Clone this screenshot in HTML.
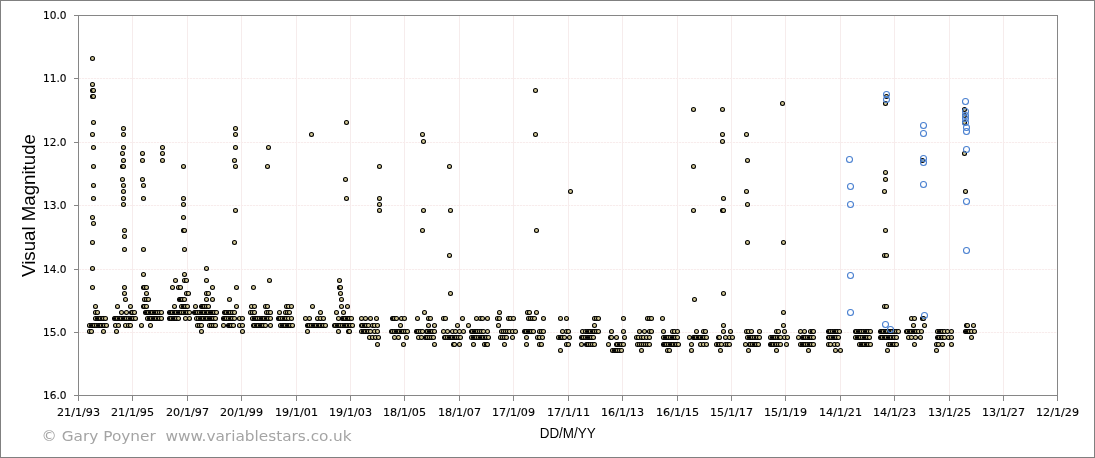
<!DOCTYPE html>
<html lang="en">
<head>
<meta charset="utf-8">
<title>Light curve - Visual Magnitude</title>
<style>
html,body{margin:0;padding:0;background:#fff;}
body{width:1095px;height:458px;overflow:hidden;}
svg{display:block;}
.tk{font-family:"DejaVu Sans","Liberation Sans",sans-serif;font-size:11.3px;fill:#000;stroke:#000;stroke-width:0.12;}
.ax{font-family:"Liberation Sans",Arial,sans-serif;fill:#000;}
.cr{font-family:"DejaVu Sans","Liberation Sans",sans-serif;font-size:13.6px;fill:#a4a4a4;}
.d circle{fill:#d2c896;stroke:#000;stroke-width:1.06;}
.b circle{fill:none;stroke:#4a80d0;stroke-width:1.08;}
</style>
</head>
<body>
<svg width="1095" height="458" viewBox="0 0 1095 458">
<rect x="0" y="0" width="1095" height="458" fill="#fff"/>
<rect x="0.5" y="0.5" width="1094" height="457" fill="none" stroke="#808080" stroke-width="1"/>

<g stroke="#f6ecec" stroke-width="1" fill="none">
<line x1="132.5" y1="16" x2="132.5" y2="395" />
<line x1="187.5" y1="16" x2="187.5" y2="395" />
<line x1="241.5" y1="16" x2="241.5" y2="395" />
<line x1="296.5" y1="16" x2="296.5" y2="395" />
<line x1="350.5" y1="16" x2="350.5" y2="395" />
<line x1="404.5" y1="16" x2="404.5" y2="395" />
<line x1="459.5" y1="16" x2="459.5" y2="395" />
<line x1="513.5" y1="16" x2="513.5" y2="395" />
<line x1="568.5" y1="16" x2="568.5" y2="395" />
<line x1="622.5" y1="16" x2="622.5" y2="395" />
<line x1="677.5" y1="16" x2="677.5" y2="395" />
<line x1="731.5" y1="16" x2="731.5" y2="395" />
<line x1="785.5" y1="16" x2="785.5" y2="395" />
<line x1="840.5" y1="16" x2="840.5" y2="395" />
<line x1="894.5" y1="16" x2="894.5" y2="395" />
<line x1="949.5" y1="16" x2="949.5" y2="395" />
<line x1="1003.5" y1="16" x2="1003.5" y2="395" />
</g>
<g stroke="#f8ecec" stroke-width="1" fill="none" stroke-dasharray="2.3 0.7">
<line x1="79" y1="78.5" x2="1057" y2="78.5" />
<line x1="79" y1="142.5" x2="1057" y2="142.5" />
<line x1="79" y1="205.5" x2="1057" y2="205.5" />
<line x1="79" y1="269.5" x2="1057" y2="269.5" />
<line x1="79" y1="332.5" x2="1057" y2="332.5" />
</g>
<g stroke="#868686" stroke-width="1" fill="none">
<rect x="78.5" y="15.5" width="979" height="380"/>
<line x1="74" y1="15.5" x2="78" y2="15.5"/>
<line x1="74" y1="78.5" x2="78" y2="78.5"/>
<line x1="74" y1="142.5" x2="78" y2="142.5"/>
<line x1="74" y1="205.5" x2="78" y2="205.5"/>
<line x1="74" y1="269.5" x2="78" y2="269.5"/>
<line x1="74" y1="332.5" x2="78" y2="332.5"/>
<line x1="74" y1="395.5" x2="78" y2="395.5"/>
<line x1="78.5" y1="396" x2="78.5" y2="401"/>
<line x1="132.5" y1="396" x2="132.5" y2="401"/>
<line x1="187.5" y1="396" x2="187.5" y2="401"/>
<line x1="241.5" y1="396" x2="241.5" y2="401"/>
<line x1="296.5" y1="396" x2="296.5" y2="401"/>
<line x1="350.5" y1="396" x2="350.5" y2="401"/>
<line x1="404.5" y1="396" x2="404.5" y2="401"/>
<line x1="459.5" y1="396" x2="459.5" y2="401"/>
<line x1="513.5" y1="396" x2="513.5" y2="401"/>
<line x1="568.5" y1="396" x2="568.5" y2="401"/>
<line x1="622.5" y1="396" x2="622.5" y2="401"/>
<line x1="677.5" y1="396" x2="677.5" y2="401"/>
<line x1="731.5" y1="396" x2="731.5" y2="401"/>
<line x1="785.5" y1="396" x2="785.5" y2="401"/>
<line x1="840.5" y1="396" x2="840.5" y2="401"/>
<line x1="894.5" y1="396" x2="894.5" y2="401"/>
<line x1="949.5" y1="396" x2="949.5" y2="401"/>
<line x1="1003.5" y1="396" x2="1003.5" y2="401"/>
<line x1="1057.5" y1="396" x2="1057.5" y2="401"/>
</g>
<g class="tk" text-anchor="end">
<text x="66.5" y="19.2" textLength="23.5" lengthAdjust="spacingAndGlyphs">10.0</text>
<text x="66.5" y="82.2" textLength="23.5" lengthAdjust="spacingAndGlyphs">11.0</text>
<text x="66.5" y="146.2" textLength="23.5" lengthAdjust="spacingAndGlyphs">12.0</text>
<text x="66.5" y="209.2" textLength="23.5" lengthAdjust="spacingAndGlyphs">13.0</text>
<text x="66.5" y="273.2" textLength="23.5" lengthAdjust="spacingAndGlyphs">14.0</text>
<text x="66.5" y="336.2" textLength="23.5" lengthAdjust="spacingAndGlyphs">15.0</text>
<text x="66.5" y="399.2" textLength="23.5" lengthAdjust="spacingAndGlyphs">16.0</text>
</g>
<g class="tk" text-anchor="middle">
<text x="78.5" y="416.3" textLength="43" lengthAdjust="spacingAndGlyphs">21/1/93</text>
<text x="132.5" y="416.3" textLength="43" lengthAdjust="spacingAndGlyphs">21/1/95</text>
<text x="187.5" y="416.3" textLength="43" lengthAdjust="spacingAndGlyphs">20/1/97</text>
<text x="241.5" y="416.3" textLength="43" lengthAdjust="spacingAndGlyphs">20/1/99</text>
<text x="296.5" y="416.3" textLength="43" lengthAdjust="spacingAndGlyphs">19/1/01</text>
<text x="350.5" y="416.3" textLength="43" lengthAdjust="spacingAndGlyphs">19/1/03</text>
<text x="404.5" y="416.3" textLength="43" lengthAdjust="spacingAndGlyphs">18/1/05</text>
<text x="459.5" y="416.3" textLength="43" lengthAdjust="spacingAndGlyphs">18/1/07</text>
<text x="513.5" y="416.3" textLength="43" lengthAdjust="spacingAndGlyphs">17/1/09</text>
<text x="568.5" y="416.3" textLength="43" lengthAdjust="spacingAndGlyphs">17/1/11</text>
<text x="622.5" y="416.3" textLength="43" lengthAdjust="spacingAndGlyphs">16/1/13</text>
<text x="677.5" y="416.3" textLength="43" lengthAdjust="spacingAndGlyphs">16/1/15</text>
<text x="731.5" y="416.3" textLength="43" lengthAdjust="spacingAndGlyphs">15/1/17</text>
<text x="785.5" y="416.3" textLength="43" lengthAdjust="spacingAndGlyphs">15/1/19</text>
<text x="840.5" y="416.3" textLength="43" lengthAdjust="spacingAndGlyphs">14/1/21</text>
<text x="894.5" y="416.3" textLength="43" lengthAdjust="spacingAndGlyphs">14/1/23</text>
<text x="949.5" y="416.3" textLength="43" lengthAdjust="spacingAndGlyphs">13/1/25</text>
<text x="1003.5" y="416.3" textLength="43" lengthAdjust="spacingAndGlyphs">13/1/27</text>
<text x="1057.5" y="416.3" textLength="43" lengthAdjust="spacingAndGlyphs">12/1/29</text>
</g>
<text class="ax" font-size="18.67" text-anchor="middle" transform="translate(35.3 205.5) rotate(-90)">Visual Magnitude</text>
<text class="ax" font-size="14" text-anchor="middle" x="567.7" y="437.6" textLength="56" lengthAdjust="spacingAndGlyphs">DD/M/YY</text>
<text class="cr" x="41.6" y="440.8" textLength="310" lengthAdjust="spacingAndGlyphs" xml:space="preserve" style="white-space:pre">© Gary Poyner  www.variablestars.co.uk</text>
<g class="d">
<circle cx="89.5" cy="331.5" r="2"/>
<circle cx="89.5" cy="325.5" r="2"/>
<circle cx="91.5" cy="325.5" r="2"/>
<circle cx="91.5" cy="331.5" r="2"/>
<circle cx="92.5" cy="287.5" r="2"/>
<circle cx="92.5" cy="58.5" r="2"/>
<circle cx="92.5" cy="84.5" r="2"/>
<circle cx="92.5" cy="134.5" r="2"/>
<circle cx="92.5" cy="217.5" r="2"/>
<circle cx="92.5" cy="242.5" r="2"/>
<circle cx="92.5" cy="268.5" r="2"/>
<circle cx="92.5" cy="325.5" r="2"/>
<circle cx="92.5" cy="90.5" r="2"/>
<circle cx="92.5" cy="96.5" r="2"/>
<circle cx="93.5" cy="90.5" r="2"/>
<circle cx="93.5" cy="96.5" r="2"/>
<circle cx="93.5" cy="122.5" r="2"/>
<circle cx="93.5" cy="147.5" r="2"/>
<circle cx="93.5" cy="166.5" r="2"/>
<circle cx="93.5" cy="185.5" r="2"/>
<circle cx="93.5" cy="198.5" r="2"/>
<circle cx="93.5" cy="223.5" r="2"/>
<circle cx="93.5" cy="325.5" r="2"/>
<circle cx="94.5" cy="325.5" r="2"/>
<circle cx="95.5" cy="306.5" r="2"/>
<circle cx="95.5" cy="318.5" r="2"/>
<circle cx="95.5" cy="312.5" r="2"/>
<circle cx="96.5" cy="325.5" r="2"/>
<circle cx="97.5" cy="312.5" r="2"/>
<circle cx="97.5" cy="318.5" r="2"/>
<circle cx="98.5" cy="318.5" r="2"/>
<circle cx="98.5" cy="325.5" r="2"/>
<circle cx="99.5" cy="318.5" r="2"/>
<circle cx="99.5" cy="325.5" r="2"/>
<circle cx="100.5" cy="318.5" r="2"/>
<circle cx="100.5" cy="325.5" r="2"/>
<circle cx="101.5" cy="325.5" r="2"/>
<circle cx="102.5" cy="318.5" r="2"/>
<circle cx="103.5" cy="331.5" r="2"/>
<circle cx="103.5" cy="318.5" r="2"/>
<circle cx="103.5" cy="325.5" r="2"/>
<circle cx="104.5" cy="325.5" r="2"/>
<circle cx="105.5" cy="318.5" r="2"/>
<circle cx="106.5" cy="325.5" r="2"/>
<circle cx="114.5" cy="318.5" r="2"/>
<circle cx="115.5" cy="325.5" r="2"/>
<circle cx="115.5" cy="318.5" r="2"/>
<circle cx="116.5" cy="331.5" r="2"/>
<circle cx="116.5" cy="318.5" r="2"/>
<circle cx="117.5" cy="306.5" r="2"/>
<circle cx="117.5" cy="318.5" r="2"/>
<circle cx="118.5" cy="325.5" r="2"/>
<circle cx="119.5" cy="318.5" r="2"/>
<circle cx="120.5" cy="318.5" r="2"/>
<circle cx="121.5" cy="312.5" r="2"/>
<circle cx="121.5" cy="318.5" r="2"/>
<circle cx="122.5" cy="153.5" r="2"/>
<circle cx="122.5" cy="166.5" r="2"/>
<circle cx="122.5" cy="179.5" r="2"/>
<circle cx="123.5" cy="128.5" r="2"/>
<circle cx="123.5" cy="134.5" r="2"/>
<circle cx="123.5" cy="147.5" r="2"/>
<circle cx="123.5" cy="160.5" r="2"/>
<circle cx="123.5" cy="185.5" r="2"/>
<circle cx="123.5" cy="191.5" r="2"/>
<circle cx="123.5" cy="198.5" r="2"/>
<circle cx="123.5" cy="204.5" r="2"/>
<circle cx="123.5" cy="318.5" r="2"/>
<circle cx="123.5" cy="166.5" r="2"/>
<circle cx="124.5" cy="230.5" r="2"/>
<circle cx="124.5" cy="236.5" r="2"/>
<circle cx="124.5" cy="249.5" r="2"/>
<circle cx="124.5" cy="318.5" r="2"/>
<circle cx="124.5" cy="287.5" r="2"/>
<circle cx="124.5" cy="293.5" r="2"/>
<circle cx="125.5" cy="325.5" r="2"/>
<circle cx="125.5" cy="318.5" r="2"/>
<circle cx="125.5" cy="299.5" r="2"/>
<circle cx="126.5" cy="312.5" r="2"/>
<circle cx="126.5" cy="318.5" r="2"/>
<circle cx="128.5" cy="318.5" r="2"/>
<circle cx="128.5" cy="325.5" r="2"/>
<circle cx="130.5" cy="306.5" r="2"/>
<circle cx="130.5" cy="325.5" r="2"/>
<circle cx="130.5" cy="318.5" r="2"/>
<circle cx="131.5" cy="312.5" r="2"/>
<circle cx="131.5" cy="318.5" r="2"/>
<circle cx="132.5" cy="318.5" r="2"/>
<circle cx="132.5" cy="312.5" r="2"/>
<circle cx="133.5" cy="318.5" r="2"/>
<circle cx="134.5" cy="312.5" r="2"/>
<circle cx="135.5" cy="318.5" r="2"/>
<circle cx="141.5" cy="325.5" r="2"/>
<circle cx="142.5" cy="153.5" r="2"/>
<circle cx="142.5" cy="160.5" r="2"/>
<circle cx="142.5" cy="179.5" r="2"/>
<circle cx="143.5" cy="274.5" r="2"/>
<circle cx="143.5" cy="185.5" r="2"/>
<circle cx="143.5" cy="198.5" r="2"/>
<circle cx="143.5" cy="249.5" r="2"/>
<circle cx="143.5" cy="287.5" r="2"/>
<circle cx="143.5" cy="306.5" r="2"/>
<circle cx="144.5" cy="287.5" r="2"/>
<circle cx="144.5" cy="299.5" r="2"/>
<circle cx="144.5" cy="306.5" r="2"/>
<circle cx="145.5" cy="312.5" r="2"/>
<circle cx="146.5" cy="287.5" r="2"/>
<circle cx="146.5" cy="299.5" r="2"/>
<circle cx="146.5" cy="306.5" r="2"/>
<circle cx="146.5" cy="312.5" r="2"/>
<circle cx="146.5" cy="293.5" r="2"/>
<circle cx="147.5" cy="312.5" r="2"/>
<circle cx="147.5" cy="318.5" r="2"/>
<circle cx="148.5" cy="299.5" r="2"/>
<circle cx="148.5" cy="312.5" r="2"/>
<circle cx="149.5" cy="318.5" r="2"/>
<circle cx="150.5" cy="325.5" r="2"/>
<circle cx="150.5" cy="312.5" r="2"/>
<circle cx="150.5" cy="318.5" r="2"/>
<circle cx="151.5" cy="312.5" r="2"/>
<circle cx="151.5" cy="318.5" r="2"/>
<circle cx="152.5" cy="312.5" r="2"/>
<circle cx="153.5" cy="318.5" r="2"/>
<circle cx="154.5" cy="312.5" r="2"/>
<circle cx="154.5" cy="318.5" r="2"/>
<circle cx="155.5" cy="312.5" r="2"/>
<circle cx="155.5" cy="318.5" r="2"/>
<circle cx="156.5" cy="312.5" r="2"/>
<circle cx="156.5" cy="318.5" r="2"/>
<circle cx="157.5" cy="312.5" r="2"/>
<circle cx="158.5" cy="318.5" r="2"/>
<circle cx="159.5" cy="312.5" r="2"/>
<circle cx="159.5" cy="318.5" r="2"/>
<circle cx="161.5" cy="312.5" r="2"/>
<circle cx="161.5" cy="318.5" r="2"/>
<circle cx="162.5" cy="147.5" r="2"/>
<circle cx="162.5" cy="160.5" r="2"/>
<circle cx="162.5" cy="153.5" r="2"/>
<circle cx="169.5" cy="312.5" r="2"/>
<circle cx="169.5" cy="318.5" r="2"/>
<circle cx="170.5" cy="312.5" r="2"/>
<circle cx="170.5" cy="318.5" r="2"/>
<circle cx="171.5" cy="312.5" r="2"/>
<circle cx="171.5" cy="318.5" r="2"/>
<circle cx="172.5" cy="287.5" r="2"/>
<circle cx="172.5" cy="312.5" r="2"/>
<circle cx="173.5" cy="318.5" r="2"/>
<circle cx="174.5" cy="306.5" r="2"/>
<circle cx="174.5" cy="312.5" r="2"/>
<circle cx="174.5" cy="318.5" r="2"/>
<circle cx="175.5" cy="280.5" r="2"/>
<circle cx="175.5" cy="312.5" r="2"/>
<circle cx="175.5" cy="318.5" r="2"/>
<circle cx="176.5" cy="312.5" r="2"/>
<circle cx="176.5" cy="318.5" r="2"/>
<circle cx="178.5" cy="287.5" r="2"/>
<circle cx="178.5" cy="312.5" r="2"/>
<circle cx="178.5" cy="318.5" r="2"/>
<circle cx="179.5" cy="299.5" r="2"/>
<circle cx="179.5" cy="312.5" r="2"/>
<circle cx="180.5" cy="287.5" r="2"/>
<circle cx="180.5" cy="299.5" r="2"/>
<circle cx="180.5" cy="312.5" r="2"/>
<circle cx="181.5" cy="299.5" r="2"/>
<circle cx="181.5" cy="306.5" r="2"/>
<circle cx="181.5" cy="312.5" r="2"/>
<circle cx="182.5" cy="299.5" r="2"/>
<circle cx="183.5" cy="204.5" r="2"/>
<circle cx="183.5" cy="166.5" r="2"/>
<circle cx="183.5" cy="198.5" r="2"/>
<circle cx="183.5" cy="217.5" r="2"/>
<circle cx="183.5" cy="230.5" r="2"/>
<circle cx="183.5" cy="306.5" r="2"/>
<circle cx="183.5" cy="312.5" r="2"/>
<circle cx="184.5" cy="274.5" r="2"/>
<circle cx="184.5" cy="230.5" r="2"/>
<circle cx="184.5" cy="249.5" r="2"/>
<circle cx="184.5" cy="299.5" r="2"/>
<circle cx="184.5" cy="306.5" r="2"/>
<circle cx="184.5" cy="280.5" r="2"/>
<circle cx="185.5" cy="306.5" r="2"/>
<circle cx="185.5" cy="312.5" r="2"/>
<circle cx="185.5" cy="318.5" r="2"/>
<circle cx="186.5" cy="280.5" r="2"/>
<circle cx="186.5" cy="312.5" r="2"/>
<circle cx="186.5" cy="293.5" r="2"/>
<circle cx="187.5" cy="306.5" r="2"/>
<circle cx="187.5" cy="312.5" r="2"/>
<circle cx="188.5" cy="293.5" r="2"/>
<circle cx="189.5" cy="318.5" r="2"/>
<circle cx="189.5" cy="312.5" r="2"/>
<circle cx="194.5" cy="312.5" r="2"/>
<circle cx="195.5" cy="312.5" r="2"/>
<circle cx="195.5" cy="306.5" r="2"/>
<circle cx="196.5" cy="312.5" r="2"/>
<circle cx="196.5" cy="318.5" r="2"/>
<circle cx="197.5" cy="312.5" r="2"/>
<circle cx="197.5" cy="325.5" r="2"/>
<circle cx="198.5" cy="318.5" r="2"/>
<circle cx="199.5" cy="312.5" r="2"/>
<circle cx="199.5" cy="325.5" r="2"/>
<circle cx="200.5" cy="318.5" r="2"/>
<circle cx="201.5" cy="331.5" r="2"/>
<circle cx="201.5" cy="306.5" r="2"/>
<circle cx="201.5" cy="312.5" r="2"/>
<circle cx="201.5" cy="318.5" r="2"/>
<circle cx="201.5" cy="325.5" r="2"/>
<circle cx="202.5" cy="306.5" r="2"/>
<circle cx="202.5" cy="312.5" r="2"/>
<circle cx="202.5" cy="318.5" r="2"/>
<circle cx="203.5" cy="306.5" r="2"/>
<circle cx="203.5" cy="312.5" r="2"/>
<circle cx="203.5" cy="318.5" r="2"/>
<circle cx="204.5" cy="306.5" r="2"/>
<circle cx="204.5" cy="312.5" r="2"/>
<circle cx="205.5" cy="318.5" r="2"/>
<circle cx="206.5" cy="268.5" r="2"/>
<circle cx="206.5" cy="306.5" r="2"/>
<circle cx="206.5" cy="312.5" r="2"/>
<circle cx="206.5" cy="318.5" r="2"/>
<circle cx="206.5" cy="280.5" r="2"/>
<circle cx="206.5" cy="293.5" r="2"/>
<circle cx="206.5" cy="299.5" r="2"/>
<circle cx="207.5" cy="312.5" r="2"/>
<circle cx="207.5" cy="318.5" r="2"/>
<circle cx="208.5" cy="293.5" r="2"/>
<circle cx="208.5" cy="306.5" r="2"/>
<circle cx="208.5" cy="312.5" r="2"/>
<circle cx="209.5" cy="325.5" r="2"/>
<circle cx="209.5" cy="318.5" r="2"/>
<circle cx="210.5" cy="312.5" r="2"/>
<circle cx="210.5" cy="318.5" r="2"/>
<circle cx="211.5" cy="325.5" r="2"/>
<circle cx="211.5" cy="312.5" r="2"/>
<circle cx="211.5" cy="318.5" r="2"/>
<circle cx="212.5" cy="312.5" r="2"/>
<circle cx="212.5" cy="318.5" r="2"/>
<circle cx="212.5" cy="287.5" r="2"/>
<circle cx="212.5" cy="299.5" r="2"/>
<circle cx="213.5" cy="325.5" r="2"/>
<circle cx="213.5" cy="312.5" r="2"/>
<circle cx="213.5" cy="318.5" r="2"/>
<circle cx="214.5" cy="312.5" r="2"/>
<circle cx="215.5" cy="318.5" r="2"/>
<circle cx="215.5" cy="325.5" r="2"/>
<circle cx="216.5" cy="312.5" r="2"/>
<circle cx="223.5" cy="318.5" r="2"/>
<circle cx="223.5" cy="325.5" r="2"/>
<circle cx="224.5" cy="312.5" r="2"/>
<circle cx="224.5" cy="318.5" r="2"/>
<circle cx="225.5" cy="312.5" r="2"/>
<circle cx="225.5" cy="318.5" r="2"/>
<circle cx="226.5" cy="312.5" r="2"/>
<circle cx="226.5" cy="318.5" r="2"/>
<circle cx="228.5" cy="312.5" r="2"/>
<circle cx="228.5" cy="318.5" r="2"/>
<circle cx="228.5" cy="325.5" r="2"/>
<circle cx="229.5" cy="299.5" r="2"/>
<circle cx="229.5" cy="312.5" r="2"/>
<circle cx="229.5" cy="325.5" r="2"/>
<circle cx="230.5" cy="312.5" r="2"/>
<circle cx="230.5" cy="318.5" r="2"/>
<circle cx="230.5" cy="325.5" r="2"/>
<circle cx="231.5" cy="318.5" r="2"/>
<circle cx="231.5" cy="325.5" r="2"/>
<circle cx="232.5" cy="312.5" r="2"/>
<circle cx="232.5" cy="318.5" r="2"/>
<circle cx="233.5" cy="325.5" r="2"/>
<circle cx="234.5" cy="160.5" r="2"/>
<circle cx="234.5" cy="242.5" r="2"/>
<circle cx="234.5" cy="312.5" r="2"/>
<circle cx="234.5" cy="318.5" r="2"/>
<circle cx="235.5" cy="128.5" r="2"/>
<circle cx="235.5" cy="134.5" r="2"/>
<circle cx="235.5" cy="147.5" r="2"/>
<circle cx="235.5" cy="166.5" r="2"/>
<circle cx="235.5" cy="210.5" r="2"/>
<circle cx="236.5" cy="287.5" r="2"/>
<circle cx="236.5" cy="306.5" r="2"/>
<circle cx="239.5" cy="325.5" r="2"/>
<circle cx="239.5" cy="318.5" r="2"/>
<circle cx="242.5" cy="318.5" r="2"/>
<circle cx="242.5" cy="325.5" r="2"/>
<circle cx="242.5" cy="331.5" r="2"/>
<circle cx="250.5" cy="312.5" r="2"/>
<circle cx="251.5" cy="306.5" r="2"/>
<circle cx="252.5" cy="312.5" r="2"/>
<circle cx="252.5" cy="318.5" r="2"/>
<circle cx="253.5" cy="325.5" r="2"/>
<circle cx="253.5" cy="287.5" r="2"/>
<circle cx="254.5" cy="306.5" r="2"/>
<circle cx="254.5" cy="318.5" r="2"/>
<circle cx="254.5" cy="325.5" r="2"/>
<circle cx="254.5" cy="312.5" r="2"/>
<circle cx="255.5" cy="318.5" r="2"/>
<circle cx="256.5" cy="318.5" r="2"/>
<circle cx="256.5" cy="325.5" r="2"/>
<circle cx="257.5" cy="318.5" r="2"/>
<circle cx="257.5" cy="325.5" r="2"/>
<circle cx="258.5" cy="325.5" r="2"/>
<circle cx="259.5" cy="318.5" r="2"/>
<circle cx="260.5" cy="325.5" r="2"/>
<circle cx="261.5" cy="318.5" r="2"/>
<circle cx="261.5" cy="325.5" r="2"/>
<circle cx="262.5" cy="318.5" r="2"/>
<circle cx="262.5" cy="325.5" r="2"/>
<circle cx="263.5" cy="318.5" r="2"/>
<circle cx="263.5" cy="325.5" r="2"/>
<circle cx="264.5" cy="318.5" r="2"/>
<circle cx="265.5" cy="306.5" r="2"/>
<circle cx="265.5" cy="325.5" r="2"/>
<circle cx="266.5" cy="318.5" r="2"/>
<circle cx="266.5" cy="312.5" r="2"/>
<circle cx="267.5" cy="306.5" r="2"/>
<circle cx="267.5" cy="166.5" r="2"/>
<circle cx="267.5" cy="318.5" r="2"/>
<circle cx="268.5" cy="147.5" r="2"/>
<circle cx="268.5" cy="318.5" r="2"/>
<circle cx="268.5" cy="312.5" r="2"/>
<circle cx="269.5" cy="280.5" r="2"/>
<circle cx="270.5" cy="325.5" r="2"/>
<circle cx="270.5" cy="318.5" r="2"/>
<circle cx="270.5" cy="312.5" r="2"/>
<circle cx="278.5" cy="318.5" r="2"/>
<circle cx="279.5" cy="312.5" r="2"/>
<circle cx="279.5" cy="318.5" r="2"/>
<circle cx="280.5" cy="318.5" r="2"/>
<circle cx="280.5" cy="325.5" r="2"/>
<circle cx="282.5" cy="318.5" r="2"/>
<circle cx="282.5" cy="325.5" r="2"/>
<circle cx="283.5" cy="325.5" r="2"/>
<circle cx="284.5" cy="318.5" r="2"/>
<circle cx="284.5" cy="325.5" r="2"/>
<circle cx="285.5" cy="312.5" r="2"/>
<circle cx="285.5" cy="318.5" r="2"/>
<circle cx="285.5" cy="325.5" r="2"/>
<circle cx="286.5" cy="318.5" r="2"/>
<circle cx="286.5" cy="306.5" r="2"/>
<circle cx="287.5" cy="312.5" r="2"/>
<circle cx="287.5" cy="325.5" r="2"/>
<circle cx="288.5" cy="318.5" r="2"/>
<circle cx="288.5" cy="325.5" r="2"/>
<circle cx="288.5" cy="306.5" r="2"/>
<circle cx="289.5" cy="325.5" r="2"/>
<circle cx="289.5" cy="312.5" r="2"/>
<circle cx="290.5" cy="325.5" r="2"/>
<circle cx="291.5" cy="306.5" r="2"/>
<circle cx="291.5" cy="318.5" r="2"/>
<circle cx="292.5" cy="325.5" r="2"/>
<circle cx="305.5" cy="318.5" r="2"/>
<circle cx="307.5" cy="331.5" r="2"/>
<circle cx="307.5" cy="325.5" r="2"/>
<circle cx="308.5" cy="325.5" r="2"/>
<circle cx="309.5" cy="325.5" r="2"/>
<circle cx="309.5" cy="318.5" r="2"/>
<circle cx="311.5" cy="134.5" r="2"/>
<circle cx="311.5" cy="325.5" r="2"/>
<circle cx="312.5" cy="306.5" r="2"/>
<circle cx="313.5" cy="325.5" r="2"/>
<circle cx="314.5" cy="325.5" r="2"/>
<circle cx="315.5" cy="325.5" r="2"/>
<circle cx="316.5" cy="325.5" r="2"/>
<circle cx="317.5" cy="318.5" r="2"/>
<circle cx="318.5" cy="325.5" r="2"/>
<circle cx="319.5" cy="325.5" r="2"/>
<circle cx="320.5" cy="312.5" r="2"/>
<circle cx="320.5" cy="318.5" r="2"/>
<circle cx="320.5" cy="325.5" r="2"/>
<circle cx="322.5" cy="325.5" r="2"/>
<circle cx="323.5" cy="325.5" r="2"/>
<circle cx="323.5" cy="318.5" r="2"/>
<circle cx="325.5" cy="325.5" r="2"/>
<circle cx="334.5" cy="325.5" r="2"/>
<circle cx="335.5" cy="325.5" r="2"/>
<circle cx="336.5" cy="312.5" r="2"/>
<circle cx="337.5" cy="325.5" r="2"/>
<circle cx="338.5" cy="318.5" r="2"/>
<circle cx="338.5" cy="331.5" r="2"/>
<circle cx="338.5" cy="325.5" r="2"/>
<circle cx="339.5" cy="325.5" r="2"/>
<circle cx="339.5" cy="280.5" r="2"/>
<circle cx="339.5" cy="287.5" r="2"/>
<circle cx="340.5" cy="287.5" r="2"/>
<circle cx="340.5" cy="293.5" r="2"/>
<circle cx="340.5" cy="325.5" r="2"/>
<circle cx="341.5" cy="299.5" r="2"/>
<circle cx="341.5" cy="306.5" r="2"/>
<circle cx="342.5" cy="318.5" r="2"/>
<circle cx="342.5" cy="325.5" r="2"/>
<circle cx="343.5" cy="318.5" r="2"/>
<circle cx="343.5" cy="312.5" r="2"/>
<circle cx="344.5" cy="318.5" r="2"/>
<circle cx="344.5" cy="325.5" r="2"/>
<circle cx="345.5" cy="179.5" r="2"/>
<circle cx="345.5" cy="318.5" r="2"/>
<circle cx="345.5" cy="325.5" r="2"/>
<circle cx="346.5" cy="122.5" r="2"/>
<circle cx="346.5" cy="198.5" r="2"/>
<circle cx="346.5" cy="325.5" r="2"/>
<circle cx="347.5" cy="306.5" r="2"/>
<circle cx="347.5" cy="318.5" r="2"/>
<circle cx="347.5" cy="325.5" r="2"/>
<circle cx="348.5" cy="331.5" r="2"/>
<circle cx="348.5" cy="318.5" r="2"/>
<circle cx="349.5" cy="318.5" r="2"/>
<circle cx="349.5" cy="325.5" r="2"/>
<circle cx="349.5" cy="331.5" r="2"/>
<circle cx="350.5" cy="325.5" r="2"/>
<circle cx="351.5" cy="318.5" r="2"/>
<circle cx="352.5" cy="325.5" r="2"/>
<circle cx="361.5" cy="325.5" r="2"/>
<circle cx="361.5" cy="331.5" r="2"/>
<circle cx="361.5" cy="318.5" r="2"/>
<circle cx="362.5" cy="325.5" r="2"/>
<circle cx="363.5" cy="331.5" r="2"/>
<circle cx="364.5" cy="325.5" r="2"/>
<circle cx="364.5" cy="331.5" r="2"/>
<circle cx="365.5" cy="318.5" r="2"/>
<circle cx="365.5" cy="325.5" r="2"/>
<circle cx="365.5" cy="331.5" r="2"/>
<circle cx="366.5" cy="325.5" r="2"/>
<circle cx="367.5" cy="331.5" r="2"/>
<circle cx="368.5" cy="325.5" r="2"/>
<circle cx="368.5" cy="331.5" r="2"/>
<circle cx="369.5" cy="337.5" r="2"/>
<circle cx="370.5" cy="318.5" r="2"/>
<circle cx="370.5" cy="331.5" r="2"/>
<circle cx="372.5" cy="325.5" r="2"/>
<circle cx="372.5" cy="337.5" r="2"/>
<circle cx="374.5" cy="331.5" r="2"/>
<circle cx="374.5" cy="325.5" r="2"/>
<circle cx="375.5" cy="337.5" r="2"/>
<circle cx="376.5" cy="318.5" r="2"/>
<circle cx="377.5" cy="325.5" r="2"/>
<circle cx="377.5" cy="344.5" r="2"/>
<circle cx="377.5" cy="331.5" r="2"/>
<circle cx="378.5" cy="337.5" r="2"/>
<circle cx="379.5" cy="204.5" r="2"/>
<circle cx="379.5" cy="166.5" r="2"/>
<circle cx="379.5" cy="198.5" r="2"/>
<circle cx="379.5" cy="210.5" r="2"/>
<circle cx="391.5" cy="331.5" r="2"/>
<circle cx="392.5" cy="318.5" r="2"/>
<circle cx="392.5" cy="331.5" r="2"/>
<circle cx="393.5" cy="318.5" r="2"/>
<circle cx="394.5" cy="337.5" r="2"/>
<circle cx="394.5" cy="318.5" r="2"/>
<circle cx="394.5" cy="331.5" r="2"/>
<circle cx="396.5" cy="318.5" r="2"/>
<circle cx="396.5" cy="331.5" r="2"/>
<circle cx="397.5" cy="331.5" r="2"/>
<circle cx="398.5" cy="337.5" r="2"/>
<circle cx="398.5" cy="331.5" r="2"/>
<circle cx="399.5" cy="331.5" r="2"/>
<circle cx="400.5" cy="325.5" r="2"/>
<circle cx="401.5" cy="331.5" r="2"/>
<circle cx="401.5" cy="318.5" r="2"/>
<circle cx="402.5" cy="331.5" r="2"/>
<circle cx="403.5" cy="344.5" r="2"/>
<circle cx="403.5" cy="331.5" r="2"/>
<circle cx="404.5" cy="318.5" r="2"/>
<circle cx="405.5" cy="331.5" r="2"/>
<circle cx="406.5" cy="337.5" r="2"/>
<circle cx="407.5" cy="331.5" r="2"/>
<circle cx="416.5" cy="331.5" r="2"/>
<circle cx="417.5" cy="318.5" r="2"/>
<circle cx="417.5" cy="331.5" r="2"/>
<circle cx="418.5" cy="331.5" r="2"/>
<circle cx="418.5" cy="337.5" r="2"/>
<circle cx="420.5" cy="331.5" r="2"/>
<circle cx="421.5" cy="337.5" r="2"/>
<circle cx="422.5" cy="134.5" r="2"/>
<circle cx="422.5" cy="230.5" r="2"/>
<circle cx="422.5" cy="331.5" r="2"/>
<circle cx="423.5" cy="141.5" r="2"/>
<circle cx="423.5" cy="210.5" r="2"/>
<circle cx="424.5" cy="312.5" r="2"/>
<circle cx="425.5" cy="337.5" r="2"/>
<circle cx="426.5" cy="331.5" r="2"/>
<circle cx="426.5" cy="337.5" r="2"/>
<circle cx="427.5" cy="331.5" r="2"/>
<circle cx="427.5" cy="337.5" r="2"/>
<circle cx="428.5" cy="318.5" r="2"/>
<circle cx="428.5" cy="325.5" r="2"/>
<circle cx="429.5" cy="331.5" r="2"/>
<circle cx="429.5" cy="337.5" r="2"/>
<circle cx="430.5" cy="331.5" r="2"/>
<circle cx="430.5" cy="318.5" r="2"/>
<circle cx="431.5" cy="331.5" r="2"/>
<circle cx="431.5" cy="337.5" r="2"/>
<circle cx="432.5" cy="331.5" r="2"/>
<circle cx="433.5" cy="337.5" r="2"/>
<circle cx="434.5" cy="344.5" r="2"/>
<circle cx="434.5" cy="331.5" r="2"/>
<circle cx="434.5" cy="325.5" r="2"/>
<circle cx="443.5" cy="318.5" r="2"/>
<circle cx="443.5" cy="331.5" r="2"/>
<circle cx="444.5" cy="337.5" r="2"/>
<circle cx="445.5" cy="318.5" r="2"/>
<circle cx="445.5" cy="337.5" r="2"/>
<circle cx="447.5" cy="331.5" r="2"/>
<circle cx="447.5" cy="337.5" r="2"/>
<circle cx="449.5" cy="166.5" r="2"/>
<circle cx="449.5" cy="255.5" r="2"/>
<circle cx="449.5" cy="337.5" r="2"/>
<circle cx="450.5" cy="210.5" r="2"/>
<circle cx="450.5" cy="337.5" r="2"/>
<circle cx="450.5" cy="293.5" r="2"/>
<circle cx="451.5" cy="337.5" r="2"/>
<circle cx="452.5" cy="337.5" r="2"/>
<circle cx="452.5" cy="331.5" r="2"/>
<circle cx="453.5" cy="344.5" r="2"/>
<circle cx="454.5" cy="337.5" r="2"/>
<circle cx="454.5" cy="344.5" r="2"/>
<circle cx="455.5" cy="331.5" r="2"/>
<circle cx="455.5" cy="337.5" r="2"/>
<circle cx="456.5" cy="337.5" r="2"/>
<circle cx="457.5" cy="325.5" r="2"/>
<circle cx="458.5" cy="337.5" r="2"/>
<circle cx="459.5" cy="344.5" r="2"/>
<circle cx="459.5" cy="331.5" r="2"/>
<circle cx="460.5" cy="337.5" r="2"/>
<circle cx="462.5" cy="318.5" r="2"/>
<circle cx="463.5" cy="331.5" r="2"/>
<circle cx="468.5" cy="325.5" r="2"/>
<circle cx="471.5" cy="331.5" r="2"/>
<circle cx="471.5" cy="337.5" r="2"/>
<circle cx="472.5" cy="331.5" r="2"/>
<circle cx="473.5" cy="344.5" r="2"/>
<circle cx="473.5" cy="337.5" r="2"/>
<circle cx="474.5" cy="331.5" r="2"/>
<circle cx="474.5" cy="337.5" r="2"/>
<circle cx="475.5" cy="331.5" r="2"/>
<circle cx="475.5" cy="337.5" r="2"/>
<circle cx="476.5" cy="318.5" r="2"/>
<circle cx="476.5" cy="331.5" r="2"/>
<circle cx="476.5" cy="337.5" r="2"/>
<circle cx="477.5" cy="331.5" r="2"/>
<circle cx="478.5" cy="337.5" r="2"/>
<circle cx="479.5" cy="331.5" r="2"/>
<circle cx="480.5" cy="337.5" r="2"/>
<circle cx="480.5" cy="318.5" r="2"/>
<circle cx="481.5" cy="331.5" r="2"/>
<circle cx="481.5" cy="337.5" r="2"/>
<circle cx="482.5" cy="318.5" r="2"/>
<circle cx="482.5" cy="337.5" r="2"/>
<circle cx="483.5" cy="331.5" r="2"/>
<circle cx="483.5" cy="337.5" r="2"/>
<circle cx="484.5" cy="344.5" r="2"/>
<circle cx="485.5" cy="337.5" r="2"/>
<circle cx="486.5" cy="344.5" r="2"/>
<circle cx="486.5" cy="337.5" r="2"/>
<circle cx="487.5" cy="318.5" r="2"/>
<circle cx="487.5" cy="331.5" r="2"/>
<circle cx="487.5" cy="344.5" r="2"/>
<circle cx="488.5" cy="337.5" r="2"/>
<circle cx="497.5" cy="318.5" r="2"/>
<circle cx="498.5" cy="325.5" r="2"/>
<circle cx="499.5" cy="312.5" r="2"/>
<circle cx="499.5" cy="318.5" r="2"/>
<circle cx="500.5" cy="337.5" r="2"/>
<circle cx="501.5" cy="331.5" r="2"/>
<circle cx="502.5" cy="337.5" r="2"/>
<circle cx="503.5" cy="331.5" r="2"/>
<circle cx="504.5" cy="344.5" r="2"/>
<circle cx="504.5" cy="337.5" r="2"/>
<circle cx="505.5" cy="331.5" r="2"/>
<circle cx="506.5" cy="337.5" r="2"/>
<circle cx="507.5" cy="331.5" r="2"/>
<circle cx="508.5" cy="318.5" r="2"/>
<circle cx="509.5" cy="331.5" r="2"/>
<circle cx="510.5" cy="318.5" r="2"/>
<circle cx="512.5" cy="331.5" r="2"/>
<circle cx="512.5" cy="337.5" r="2"/>
<circle cx="513.5" cy="318.5" r="2"/>
<circle cx="515.5" cy="331.5" r="2"/>
<circle cx="524.5" cy="331.5" r="2"/>
<circle cx="525.5" cy="331.5" r="2"/>
<circle cx="526.5" cy="337.5" r="2"/>
<circle cx="526.5" cy="344.5" r="2"/>
<circle cx="526.5" cy="331.5" r="2"/>
<circle cx="527.5" cy="312.5" r="2"/>
<circle cx="528.5" cy="318.5" r="2"/>
<circle cx="528.5" cy="331.5" r="2"/>
<circle cx="529.5" cy="312.5" r="2"/>
<circle cx="529.5" cy="331.5" r="2"/>
<circle cx="530.5" cy="318.5" r="2"/>
<circle cx="530.5" cy="331.5" r="2"/>
<circle cx="531.5" cy="331.5" r="2"/>
<circle cx="532.5" cy="318.5" r="2"/>
<circle cx="533.5" cy="331.5" r="2"/>
<circle cx="534.5" cy="318.5" r="2"/>
<circle cx="535.5" cy="90.5" r="2"/>
<circle cx="535.5" cy="134.5" r="2"/>
<circle cx="536.5" cy="230.5" r="2"/>
<circle cx="536.5" cy="312.5" r="2"/>
<circle cx="537.5" cy="337.5" r="2"/>
<circle cx="539.5" cy="331.5" r="2"/>
<circle cx="539.5" cy="337.5" r="2"/>
<circle cx="539.5" cy="344.5" r="2"/>
<circle cx="541.5" cy="331.5" r="2"/>
<circle cx="541.5" cy="344.5" r="2"/>
<circle cx="542.5" cy="337.5" r="2"/>
<circle cx="543.5" cy="318.5" r="2"/>
<circle cx="543.5" cy="331.5" r="2"/>
<circle cx="558.5" cy="337.5" r="2"/>
<circle cx="560.5" cy="337.5" r="2"/>
<circle cx="560.5" cy="318.5" r="2"/>
<circle cx="560.5" cy="350.5" r="2"/>
<circle cx="561.5" cy="337.5" r="2"/>
<circle cx="562.5" cy="331.5" r="2"/>
<circle cx="562.5" cy="337.5" r="2"/>
<circle cx="564.5" cy="337.5" r="2"/>
<circle cx="566.5" cy="318.5" r="2"/>
<circle cx="566.5" cy="344.5" r="2"/>
<circle cx="566.5" cy="331.5" r="2"/>
<circle cx="568.5" cy="331.5" r="2"/>
<circle cx="568.5" cy="344.5" r="2"/>
<circle cx="569.5" cy="337.5" r="2"/>
<circle cx="570.5" cy="191.5" r="2"/>
<circle cx="581.5" cy="344.5" r="2"/>
<circle cx="581.5" cy="337.5" r="2"/>
<circle cx="582.5" cy="331.5" r="2"/>
<circle cx="582.5" cy="337.5" r="2"/>
<circle cx="583.5" cy="337.5" r="2"/>
<circle cx="585.5" cy="331.5" r="2"/>
<circle cx="585.5" cy="337.5" r="2"/>
<circle cx="586.5" cy="344.5" r="2"/>
<circle cx="587.5" cy="331.5" r="2"/>
<circle cx="587.5" cy="337.5" r="2"/>
<circle cx="587.5" cy="344.5" r="2"/>
<circle cx="588.5" cy="331.5" r="2"/>
<circle cx="588.5" cy="337.5" r="2"/>
<circle cx="588.5" cy="344.5" r="2"/>
<circle cx="589.5" cy="331.5" r="2"/>
<circle cx="589.5" cy="337.5" r="2"/>
<circle cx="590.5" cy="331.5" r="2"/>
<circle cx="590.5" cy="337.5" r="2"/>
<circle cx="590.5" cy="344.5" r="2"/>
<circle cx="591.5" cy="337.5" r="2"/>
<circle cx="592.5" cy="331.5" r="2"/>
<circle cx="592.5" cy="344.5" r="2"/>
<circle cx="593.5" cy="331.5" r="2"/>
<circle cx="593.5" cy="337.5" r="2"/>
<circle cx="594.5" cy="318.5" r="2"/>
<circle cx="594.5" cy="325.5" r="2"/>
<circle cx="594.5" cy="331.5" r="2"/>
<circle cx="594.5" cy="344.5" r="2"/>
<circle cx="596.5" cy="318.5" r="2"/>
<circle cx="596.5" cy="331.5" r="2"/>
<circle cx="598.5" cy="318.5" r="2"/>
<circle cx="598.5" cy="331.5" r="2"/>
<circle cx="608.5" cy="344.5" r="2"/>
<circle cx="610.5" cy="337.5" r="2"/>
<circle cx="611.5" cy="331.5" r="2"/>
<circle cx="611.5" cy="337.5" r="2"/>
<circle cx="612.5" cy="350.5" r="2"/>
<circle cx="614.5" cy="350.5" r="2"/>
<circle cx="615.5" cy="350.5" r="2"/>
<circle cx="616.5" cy="344.5" r="2"/>
<circle cx="616.5" cy="350.5" r="2"/>
<circle cx="616.5" cy="337.5" r="2"/>
<circle cx="617.5" cy="344.5" r="2"/>
<circle cx="617.5" cy="350.5" r="2"/>
<circle cx="619.5" cy="344.5" r="2"/>
<circle cx="619.5" cy="350.5" r="2"/>
<circle cx="620.5" cy="344.5" r="2"/>
<circle cx="621.5" cy="344.5" r="2"/>
<circle cx="621.5" cy="350.5" r="2"/>
<circle cx="623.5" cy="318.5" r="2"/>
<circle cx="623.5" cy="331.5" r="2"/>
<circle cx="623.5" cy="344.5" r="2"/>
<circle cx="624.5" cy="337.5" r="2"/>
<circle cx="636.5" cy="337.5" r="2"/>
<circle cx="637.5" cy="344.5" r="2"/>
<circle cx="638.5" cy="337.5" r="2"/>
<circle cx="639.5" cy="344.5" r="2"/>
<circle cx="639.5" cy="331.5" r="2"/>
<circle cx="641.5" cy="344.5" r="2"/>
<circle cx="641.5" cy="350.5" r="2"/>
<circle cx="641.5" cy="337.5" r="2"/>
<circle cx="643.5" cy="344.5" r="2"/>
<circle cx="643.5" cy="337.5" r="2"/>
<circle cx="644.5" cy="331.5" r="2"/>
<circle cx="645.5" cy="344.5" r="2"/>
<circle cx="646.5" cy="337.5" r="2"/>
<circle cx="647.5" cy="318.5" r="2"/>
<circle cx="647.5" cy="344.5" r="2"/>
<circle cx="649.5" cy="318.5" r="2"/>
<circle cx="649.5" cy="331.5" r="2"/>
<circle cx="649.5" cy="337.5" r="2"/>
<circle cx="649.5" cy="344.5" r="2"/>
<circle cx="651.5" cy="318.5" r="2"/>
<circle cx="651.5" cy="331.5" r="2"/>
<circle cx="662.5" cy="318.5" r="2"/>
<circle cx="663.5" cy="331.5" r="2"/>
<circle cx="663.5" cy="337.5" r="2"/>
<circle cx="663.5" cy="344.5" r="2"/>
<circle cx="664.5" cy="344.5" r="2"/>
<circle cx="665.5" cy="337.5" r="2"/>
<circle cx="665.5" cy="344.5" r="2"/>
<circle cx="666.5" cy="337.5" r="2"/>
<circle cx="666.5" cy="344.5" r="2"/>
<circle cx="667.5" cy="350.5" r="2"/>
<circle cx="667.5" cy="337.5" r="2"/>
<circle cx="668.5" cy="337.5" r="2"/>
<circle cx="668.5" cy="344.5" r="2"/>
<circle cx="669.5" cy="350.5" r="2"/>
<circle cx="670.5" cy="337.5" r="2"/>
<circle cx="670.5" cy="344.5" r="2"/>
<circle cx="671.5" cy="344.5" r="2"/>
<circle cx="672.5" cy="331.5" r="2"/>
<circle cx="672.5" cy="337.5" r="2"/>
<circle cx="672.5" cy="344.5" r="2"/>
<circle cx="673.5" cy="337.5" r="2"/>
<circle cx="673.5" cy="344.5" r="2"/>
<circle cx="674.5" cy="337.5" r="2"/>
<circle cx="674.5" cy="331.5" r="2"/>
<circle cx="675.5" cy="337.5" r="2"/>
<circle cx="675.5" cy="344.5" r="2"/>
<circle cx="676.5" cy="344.5" r="2"/>
<circle cx="677.5" cy="337.5" r="2"/>
<circle cx="677.5" cy="331.5" r="2"/>
<circle cx="678.5" cy="344.5" r="2"/>
<circle cx="689.5" cy="337.5" r="2"/>
<circle cx="691.5" cy="344.5" r="2"/>
<circle cx="691.5" cy="350.5" r="2"/>
<circle cx="693.5" cy="109.5" r="2"/>
<circle cx="693.5" cy="166.5" r="2"/>
<circle cx="693.5" cy="210.5" r="2"/>
<circle cx="693.5" cy="337.5" r="2"/>
<circle cx="694.5" cy="299.5" r="2"/>
<circle cx="694.5" cy="337.5" r="2"/>
<circle cx="695.5" cy="337.5" r="2"/>
<circle cx="696.5" cy="337.5" r="2"/>
<circle cx="696.5" cy="331.5" r="2"/>
<circle cx="698.5" cy="337.5" r="2"/>
<circle cx="699.5" cy="337.5" r="2"/>
<circle cx="700.5" cy="344.5" r="2"/>
<circle cx="700.5" cy="337.5" r="2"/>
<circle cx="702.5" cy="337.5" r="2"/>
<circle cx="703.5" cy="331.5" r="2"/>
<circle cx="703.5" cy="344.5" r="2"/>
<circle cx="703.5" cy="337.5" r="2"/>
<circle cx="704.5" cy="337.5" r="2"/>
<circle cx="705.5" cy="331.5" r="2"/>
<circle cx="706.5" cy="344.5" r="2"/>
<circle cx="706.5" cy="337.5" r="2"/>
<circle cx="716.5" cy="344.5" r="2"/>
<circle cx="718.5" cy="337.5" r="2"/>
<circle cx="718.5" cy="344.5" r="2"/>
<circle cx="719.5" cy="344.5" r="2"/>
<circle cx="719.5" cy="337.5" r="2"/>
<circle cx="720.5" cy="350.5" r="2"/>
<circle cx="721.5" cy="344.5" r="2"/>
<circle cx="722.5" cy="109.5" r="2"/>
<circle cx="722.5" cy="134.5" r="2"/>
<circle cx="722.5" cy="141.5" r="2"/>
<circle cx="722.5" cy="210.5" r="2"/>
<circle cx="723.5" cy="198.5" r="2"/>
<circle cx="723.5" cy="210.5" r="2"/>
<circle cx="723.5" cy="293.5" r="2"/>
<circle cx="723.5" cy="325.5" r="2"/>
<circle cx="723.5" cy="331.5" r="2"/>
<circle cx="725.5" cy="337.5" r="2"/>
<circle cx="725.5" cy="344.5" r="2"/>
<circle cx="727.5" cy="344.5" r="2"/>
<circle cx="729.5" cy="337.5" r="2"/>
<circle cx="729.5" cy="344.5" r="2"/>
<circle cx="730.5" cy="331.5" r="2"/>
<circle cx="732.5" cy="337.5" r="2"/>
<circle cx="745.5" cy="344.5" r="2"/>
<circle cx="746.5" cy="134.5" r="2"/>
<circle cx="746.5" cy="191.5" r="2"/>
<circle cx="746.5" cy="331.5" r="2"/>
<circle cx="747.5" cy="160.5" r="2"/>
<circle cx="747.5" cy="204.5" r="2"/>
<circle cx="747.5" cy="242.5" r="2"/>
<circle cx="747.5" cy="337.5" r="2"/>
<circle cx="748.5" cy="350.5" r="2"/>
<circle cx="748.5" cy="331.5" r="2"/>
<circle cx="749.5" cy="337.5" r="2"/>
<circle cx="749.5" cy="344.5" r="2"/>
<circle cx="750.5" cy="337.5" r="2"/>
<circle cx="750.5" cy="344.5" r="2"/>
<circle cx="751.5" cy="331.5" r="2"/>
<circle cx="751.5" cy="337.5" r="2"/>
<circle cx="752.5" cy="337.5" r="2"/>
<circle cx="752.5" cy="344.5" r="2"/>
<circle cx="754.5" cy="337.5" r="2"/>
<circle cx="754.5" cy="344.5" r="2"/>
<circle cx="755.5" cy="344.5" r="2"/>
<circle cx="756.5" cy="337.5" r="2"/>
<circle cx="756.5" cy="344.5" r="2"/>
<circle cx="757.5" cy="337.5" r="2"/>
<circle cx="758.5" cy="344.5" r="2"/>
<circle cx="759.5" cy="331.5" r="2"/>
<circle cx="759.5" cy="337.5" r="2"/>
<circle cx="770.5" cy="337.5" r="2"/>
<circle cx="770.5" cy="344.5" r="2"/>
<circle cx="771.5" cy="344.5" r="2"/>
<circle cx="772.5" cy="337.5" r="2"/>
<circle cx="772.5" cy="344.5" r="2"/>
<circle cx="773.5" cy="337.5" r="2"/>
<circle cx="773.5" cy="344.5" r="2"/>
<circle cx="774.5" cy="337.5" r="2"/>
<circle cx="775.5" cy="337.5" r="2"/>
<circle cx="775.5" cy="344.5" r="2"/>
<circle cx="776.5" cy="331.5" r="2"/>
<circle cx="776.5" cy="350.5" r="2"/>
<circle cx="776.5" cy="344.5" r="2"/>
<circle cx="777.5" cy="337.5" r="2"/>
<circle cx="778.5" cy="331.5" r="2"/>
<circle cx="778.5" cy="344.5" r="2"/>
<circle cx="779.5" cy="337.5" r="2"/>
<circle cx="780.5" cy="337.5" r="2"/>
<circle cx="780.5" cy="344.5" r="2"/>
<circle cx="782.5" cy="103.5" r="2"/>
<circle cx="783.5" cy="242.5" r="2"/>
<circle cx="783.5" cy="312.5" r="2"/>
<circle cx="783.5" cy="325.5" r="2"/>
<circle cx="784.5" cy="331.5" r="2"/>
<circle cx="784.5" cy="337.5" r="2"/>
<circle cx="786.5" cy="344.5" r="2"/>
<circle cx="787.5" cy="337.5" r="2"/>
<circle cx="798.5" cy="337.5" r="2"/>
<circle cx="800.5" cy="331.5" r="2"/>
<circle cx="800.5" cy="344.5" r="2"/>
<circle cx="802.5" cy="337.5" r="2"/>
<circle cx="802.5" cy="344.5" r="2"/>
<circle cx="803.5" cy="337.5" r="2"/>
<circle cx="803.5" cy="344.5" r="2"/>
<circle cx="804.5" cy="337.5" r="2"/>
<circle cx="804.5" cy="344.5" r="2"/>
<circle cx="804.5" cy="331.5" r="2"/>
<circle cx="805.5" cy="337.5" r="2"/>
<circle cx="805.5" cy="344.5" r="2"/>
<circle cx="807.5" cy="337.5" r="2"/>
<circle cx="807.5" cy="344.5" r="2"/>
<circle cx="808.5" cy="350.5" r="2"/>
<circle cx="809.5" cy="337.5" r="2"/>
<circle cx="809.5" cy="344.5" r="2"/>
<circle cx="810.5" cy="337.5" r="2"/>
<circle cx="810.5" cy="344.5" r="2"/>
<circle cx="810.5" cy="331.5" r="2"/>
<circle cx="811.5" cy="337.5" r="2"/>
<circle cx="811.5" cy="344.5" r="2"/>
<circle cx="812.5" cy="331.5" r="2"/>
<circle cx="813.5" cy="337.5" r="2"/>
<circle cx="813.5" cy="344.5" r="2"/>
<circle cx="813.5" cy="331.5" r="2"/>
<circle cx="828.5" cy="331.5" r="2"/>
<circle cx="828.5" cy="337.5" r="2"/>
<circle cx="828.5" cy="344.5" r="2"/>
<circle cx="829.5" cy="331.5" r="2"/>
<circle cx="829.5" cy="337.5" r="2"/>
<circle cx="830.5" cy="331.5" r="2"/>
<circle cx="830.5" cy="344.5" r="2"/>
<circle cx="831.5" cy="337.5" r="2"/>
<circle cx="832.5" cy="331.5" r="2"/>
<circle cx="833.5" cy="337.5" r="2"/>
<circle cx="834.5" cy="344.5" r="2"/>
<circle cx="834.5" cy="331.5" r="2"/>
<circle cx="834.5" cy="337.5" r="2"/>
<circle cx="835.5" cy="350.5" r="2"/>
<circle cx="835.5" cy="331.5" r="2"/>
<circle cx="835.5" cy="337.5" r="2"/>
<circle cx="836.5" cy="331.5" r="2"/>
<circle cx="836.5" cy="337.5" r="2"/>
<circle cx="837.5" cy="331.5" r="2"/>
<circle cx="837.5" cy="344.5" r="2"/>
<circle cx="838.5" cy="337.5" r="2"/>
<circle cx="839.5" cy="331.5" r="2"/>
<circle cx="840.5" cy="350.5" r="2"/>
<circle cx="855.5" cy="331.5" r="2"/>
<circle cx="855.5" cy="337.5" r="2"/>
<circle cx="856.5" cy="331.5" r="2"/>
<circle cx="857.5" cy="337.5" r="2"/>
<circle cx="858.5" cy="331.5" r="2"/>
<circle cx="858.5" cy="337.5" r="2"/>
<circle cx="859.5" cy="331.5" r="2"/>
<circle cx="859.5" cy="337.5" r="2"/>
<circle cx="859.5" cy="344.5" r="2"/>
<circle cx="860.5" cy="331.5" r="2"/>
<circle cx="860.5" cy="337.5" r="2"/>
<circle cx="861.5" cy="331.5" r="2"/>
<circle cx="861.5" cy="344.5" r="2"/>
<circle cx="862.5" cy="337.5" r="2"/>
<circle cx="862.5" cy="344.5" r="2"/>
<circle cx="863.5" cy="331.5" r="2"/>
<circle cx="863.5" cy="344.5" r="2"/>
<circle cx="864.5" cy="337.5" r="2"/>
<circle cx="864.5" cy="344.5" r="2"/>
<circle cx="865.5" cy="331.5" r="2"/>
<circle cx="865.5" cy="337.5" r="2"/>
<circle cx="866.5" cy="331.5" r="2"/>
<circle cx="866.5" cy="337.5" r="2"/>
<circle cx="866.5" cy="344.5" r="2"/>
<circle cx="867.5" cy="331.5" r="2"/>
<circle cx="867.5" cy="337.5" r="2"/>
<circle cx="867.5" cy="344.5" r="2"/>
<circle cx="868.5" cy="331.5" r="2"/>
<circle cx="868.5" cy="344.5" r="2"/>
<circle cx="869.5" cy="337.5" r="2"/>
<circle cx="870.5" cy="331.5" r="2"/>
<circle cx="870.5" cy="344.5" r="2"/>
<circle cx="880.5" cy="331.5" r="2"/>
<circle cx="880.5" cy="337.5" r="2"/>
<circle cx="881.5" cy="331.5" r="2"/>
<circle cx="881.5" cy="337.5" r="2"/>
<circle cx="882.5" cy="331.5" r="2"/>
<circle cx="882.5" cy="337.5" r="2"/>
<circle cx="883.5" cy="331.5" r="2"/>
<circle cx="884.5" cy="255.5" r="2"/>
<circle cx="884.5" cy="191.5" r="2"/>
<circle cx="884.5" cy="337.5" r="2"/>
<circle cx="884.5" cy="306.5" r="2"/>
<circle cx="885.5" cy="103.5" r="2"/>
<circle cx="885.5" cy="172.5" r="2"/>
<circle cx="885.5" cy="179.5" r="2"/>
<circle cx="885.5" cy="230.5" r="2"/>
<circle cx="885.5" cy="331.5" r="2"/>
<circle cx="885.5" cy="337.5" r="2"/>
<circle cx="886.5" cy="96.5" r="2"/>
<circle cx="886.5" cy="255.5" r="2"/>
<circle cx="886.5" cy="306.5" r="2"/>
<circle cx="886.5" cy="331.5" r="2"/>
<circle cx="886.5" cy="337.5" r="2"/>
<circle cx="887.5" cy="331.5" r="2"/>
<circle cx="887.5" cy="350.5" r="2"/>
<circle cx="888.5" cy="337.5" r="2"/>
<circle cx="888.5" cy="344.5" r="2"/>
<circle cx="889.5" cy="331.5" r="2"/>
<circle cx="889.5" cy="337.5" r="2"/>
<circle cx="890.5" cy="331.5" r="2"/>
<circle cx="890.5" cy="337.5" r="2"/>
<circle cx="890.5" cy="344.5" r="2"/>
<circle cx="891.5" cy="331.5" r="2"/>
<circle cx="891.5" cy="337.5" r="2"/>
<circle cx="892.5" cy="331.5" r="2"/>
<circle cx="892.5" cy="344.5" r="2"/>
<circle cx="893.5" cy="337.5" r="2"/>
<circle cx="893.5" cy="344.5" r="2"/>
<circle cx="894.5" cy="331.5" r="2"/>
<circle cx="894.5" cy="337.5" r="2"/>
<circle cx="894.5" cy="344.5" r="2"/>
<circle cx="896.5" cy="331.5" r="2"/>
<circle cx="896.5" cy="337.5" r="2"/>
<circle cx="896.5" cy="344.5" r="2"/>
<circle cx="898.5" cy="331.5" r="2"/>
<circle cx="906.5" cy="331.5" r="2"/>
<circle cx="907.5" cy="331.5" r="2"/>
<circle cx="908.5" cy="337.5" r="2"/>
<circle cx="909.5" cy="331.5" r="2"/>
<circle cx="910.5" cy="331.5" r="2"/>
<circle cx="911.5" cy="318.5" r="2"/>
<circle cx="911.5" cy="331.5" r="2"/>
<circle cx="911.5" cy="337.5" r="2"/>
<circle cx="913.5" cy="325.5" r="2"/>
<circle cx="913.5" cy="331.5" r="2"/>
<circle cx="914.5" cy="344.5" r="2"/>
<circle cx="914.5" cy="331.5" r="2"/>
<circle cx="914.5" cy="318.5" r="2"/>
<circle cx="915.5" cy="337.5" r="2"/>
<circle cx="915.5" cy="331.5" r="2"/>
<circle cx="916.5" cy="331.5" r="2"/>
<circle cx="918.5" cy="331.5" r="2"/>
<circle cx="920.5" cy="337.5" r="2"/>
<circle cx="921.5" cy="331.5" r="2"/>
<circle cx="922.5" cy="160.5" r="2"/>
<circle cx="922.5" cy="318.5" r="2"/>
<circle cx="923.5" cy="318.5" r="2"/>
<circle cx="924.5" cy="325.5" r="2"/>
<circle cx="936.5" cy="344.5" r="2"/>
<circle cx="936.5" cy="350.5" r="2"/>
<circle cx="937.5" cy="331.5" r="2"/>
<circle cx="937.5" cy="337.5" r="2"/>
<circle cx="938.5" cy="344.5" r="2"/>
<circle cx="938.5" cy="337.5" r="2"/>
<circle cx="939.5" cy="331.5" r="2"/>
<circle cx="939.5" cy="337.5" r="2"/>
<circle cx="940.5" cy="331.5" r="2"/>
<circle cx="941.5" cy="331.5" r="2"/>
<circle cx="941.5" cy="337.5" r="2"/>
<circle cx="942.5" cy="331.5" r="2"/>
<circle cx="942.5" cy="337.5" r="2"/>
<circle cx="942.5" cy="344.5" r="2"/>
<circle cx="944.5" cy="331.5" r="2"/>
<circle cx="944.5" cy="337.5" r="2"/>
<circle cx="947.5" cy="331.5" r="2"/>
<circle cx="948.5" cy="337.5" r="2"/>
<circle cx="951.5" cy="331.5" r="2"/>
<circle cx="951.5" cy="337.5" r="2"/>
<circle cx="951.5" cy="344.5" r="2"/>
<circle cx="964.5" cy="153.5" r="2"/>
<circle cx="964.5" cy="109.5" r="2"/>
<circle cx="964.5" cy="115.5" r="2"/>
<circle cx="964.5" cy="122.5" r="2"/>
<circle cx="965.5" cy="191.5" r="2"/>
<circle cx="965.5" cy="331.5" r="2"/>
<circle cx="966.5" cy="331.5" r="2"/>
<circle cx="966.5" cy="325.5" r="2"/>
<circle cx="967.5" cy="325.5" r="2"/>
<circle cx="967.5" cy="331.5" r="2"/>
<circle cx="968.5" cy="331.5" r="2"/>
<circle cx="969.5" cy="331.5" r="2"/>
<circle cx="971.5" cy="337.5" r="2"/>
<circle cx="971.5" cy="331.5" r="2"/>
<circle cx="973.5" cy="325.5" r="2"/>
<circle cx="974.5" cy="331.5" r="2"/>
</g>
<g class="b">
<circle cx="886.5" cy="94.5" r="3"/>
<circle cx="886.5" cy="99.5" r="3"/>
<circle cx="885.5" cy="324.5" r="3"/>
<circle cx="890.5" cy="329.5" r="3"/>
<circle cx="923.5" cy="125.5" r="3"/>
<circle cx="923.5" cy="133.5" r="3"/>
<circle cx="923.5" cy="158.5" r="3"/>
<circle cx="923.5" cy="162.5" r="3"/>
<circle cx="923.5" cy="184.5" r="3"/>
<circle cx="924.5" cy="315.5" r="3"/>
<circle cx="849.5" cy="159.5" r="3"/>
<circle cx="850.5" cy="186.5" r="3"/>
<circle cx="850.5" cy="204.5" r="3"/>
<circle cx="850.5" cy="275.5" r="3"/>
<circle cx="850.5" cy="312.5" r="3"/>
<circle cx="965.5" cy="101.5" r="3"/>
<circle cx="965.5" cy="111.5" r="3"/>
<circle cx="965.5" cy="115.5" r="3"/>
<circle cx="965.5" cy="118.5" r="3"/>
<circle cx="965.5" cy="122.5" r="3"/>
<circle cx="966.5" cy="127.5" r="3"/>
<circle cx="966.5" cy="131.5" r="3"/>
<circle cx="966.5" cy="149.5" r="3"/>
<circle cx="966.5" cy="201.5" r="3"/>
<circle cx="966.5" cy="250.5" r="3"/>
</g>
</svg>
</body>
</html>
